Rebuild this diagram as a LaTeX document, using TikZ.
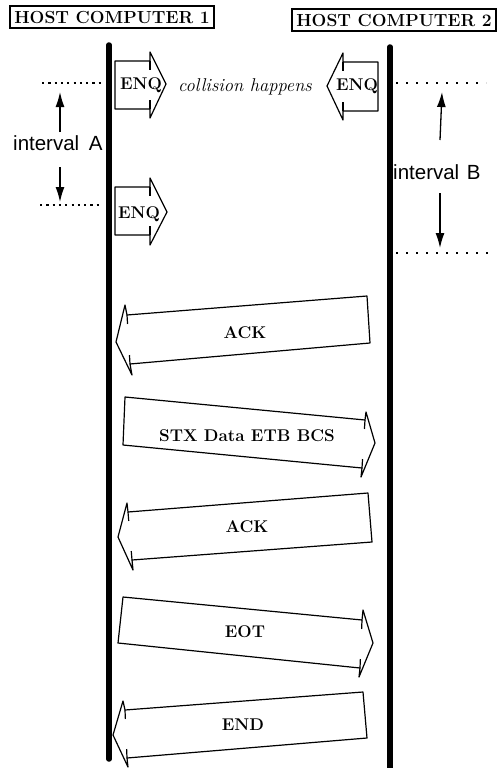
\documentclass[tikz,border=0pt]{standalone}
\usepackage{fontspec}
\newfontfamily\sansf{Liberation Sans}
\usetikzlibrary{arrows.meta,calc}
\tikzset{
  bar/.style={line width=5.5pt, line cap=round},
  hostbox/.style={draw, line width=1.3pt, inner sep=0pt,
    font=\fontsize{17.5}{17.5}\selectfont\bfseries},
  msg/.style={draw, line width=1.2pt, line join=round, fill=white},
  tick/.style={line width=1.2pt},
  lbl/.style={font=\fontsize{17}{17}\selectfont\bfseries, inner sep=0pt, text depth=0pt},
  ital/.style={font=\fontsize{18.5}{18.5}\selectfont\itshape, inner sep=0pt},
  ivl/.style={font=\fontsize{20.5}{20.5}\selectfont\sansf, inner sep=0pt},
  dotsl/.style={line width=2.2pt, dash pattern=on 2.2pt off 4.1pt},
  dotsr/.style={line width=2.2pt, dash pattern=on 2.2pt off 7.8pt},
  ivarrow/.style={line width=1.3pt, -{Latex[length=15pt,width=9pt]}},
}
\newcommand{\Msg}[7]{%
  \draw[msg] #1 -- #2 -- #3 -- #4 -- #5 -- #6 -- #7 -- cycle;
  \draw[tick] #1 -- ($#1!9pt!#4$);
  \draw[tick] #4 -- ($#4!9pt!#1$);
}
\begin{document}
\begin{tikzpicture}[x=1pt,y=-1pt]
\useasboundingbox (0,0) rectangle (496,768);

% host boxes
\node[hostbox, minimum width=204pt, minimum height=22pt] (h1) at (112,17) {HOST COMPUTER 1};
\node[hostbox, minimum width=204pt, minimum height=22pt] (h2) at (394,20) {HOST COMPUTER 2};

% time lines
\coordinate (l1t) at (109,45);
\coordinate (l1b) at (109,759);
\coordinate (l2t) at (390,47);
\coordinate (l2b) at (390,775);
\draw[bar] (l1t) -- (l1b);
\draw[bar] (l2t) -- (l2b);

% ENQ arrows
\Msg{(150,61)}{(115,61)}{(115,109)}{(150,109)}{(150,118)}{(166,84)}{(150,52)}
\node[lbl] (enq1) at (141,84) {ENQ};
\Msg{(343,62)}{(378,62)}{(378,111)}{(343,111)}{(343,120)}{(327,86)}{(343,53)}
\node[lbl] (enq2) at (357,85) {ENQ};
\Msg{(150,187)}{(115,187)}{(115,235)}{(150,235)}{(150,245)}{(167,212)}{(150,178)}
\node[lbl] (enq3) at (139,213) {ENQ};

\node[ital, anchor=base] (coll) at (245,92) {collision happens};

% interval A
\coordinate (da1) at (42,83);  \coordinate (da2) at (101,83);
\coordinate (db1) at (40,205); \coordinate (db2) at (102,205);
\draw[dotsl] (da1) -- (da2);
\draw[dotsl] (db1) -- (db2);
\node[ivl, anchor=west] (ivA) at (13,143) {interval\hspace{4pt} A};
\coordinate (aup0) at (60,132); \coordinate (aup1) at (60,92);
\coordinate (adn0) at (60,167); \coordinate (adn1) at (60,202);
\draw[ivarrow] (aup0) -- (aup1);
\draw[ivarrow] (adn0) -- (adn1);

% interval B
\coordinate (dc1) at (396,83);  \coordinate (dc2) at (486,83);
\coordinate (dd1) at (396,253); \coordinate (dd2) at (488,253);
\draw[dotsr] (dc1) -- (dc2);
\draw[dotsr] (dd1) -- (dd2);
\node[ivl, anchor=west] (ivB) at (393,172) {interval\hspace{2pt} B};
\coordinate (bup0) at (440,140); \coordinate (bup1) at (442,92);
\coordinate (bdn0) at (440,193); \coordinate (bdn1) at (440,248);
\draw[ivarrow] (bup0) -- (bup1);
\draw[ivarrow] (bdn0) -- (bdn1);

% big messages
\Msg{(127,315)}{(367,296)}{(370,343)}{(130,364)}{(132,375)}{(116,342)}{(125,305)}
\node[lbl] (ack1) at (245,333) {ACK};
\Msg{(365,420)}{(125,397)}{(123,445)}{(362,468)}{(361,477)}{(375,443)}{(366,412)}
\node[lbl] (stx) at (247,436) {STX Data ETB BCS};
\Msg{(128,512)}{(368,493)}{(372,542)}{(132,560)}{(133,570)}{(118,537)}{(127,503)}
\node[lbl] (ack2) at (247,527) {ACK};
\Msg{(362,620)}{(123,597)}{(118,643)}{(360,668)}{(359,677)}{(373,643)}{(363,610)}
\node[lbl] (eot) at (245,632) {EOT};
\Msg{(125,710)}{(363,692)}{(367,738)}{(127,758)}{(128,767)}{(113,735)}{(123,701)}
\node[lbl] (end) at (243,725) {END};
\end{tikzpicture}
\end{document}
